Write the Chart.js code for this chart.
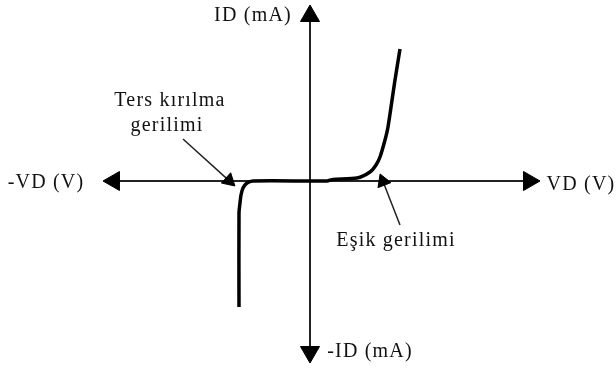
<!DOCTYPE html>
<html>
<head>
<meta charset="utf-8">
<script src="https://cdn.jsdelivr.net/npm/chart.js@4.4.1/dist/chart.umd.min.js"></script>
<style>
  html, body { margin: 0; padding: 0; background: #fff; }
  #wrap { width: 616px; height: 371px; }
</style>
</head>
<body>
<div id="wrap"><canvas id="diode" width="616" height="371"></canvas></div>
<script>
// diode characteristic (arbitrary units, reverse breakdown on the left, knee on the right)
const vd = [-3.55, -3.55, -3.5, -3.45, -3.35, -3.15, -2.85, 0, 0.85, 1.15, 2.35, 3.0, 3.3, 3.5, 3.75, 3.9, 4.25, 4.5];
const id = [-6.3, -1.6, -1.1, -0.7, -0.35, -0.1, 0, 0, 0, 0.08, 0.15, 0.45, 0.8, 1.2, 2.05, 2.7, 5.05, 6.6];

// axis extents, ending at the arrowhead centres
const vAxis = [-9.8, 10.95];
const iAxis = [-8.55, 8.25];

// pointer arrows: start near the caption, end at the arrowhead
const breakdownX = [-6.35, -4.05];
const breakdownY = [2.1, 0.02];
const thresholdX = [4.5, 3.65];
const thresholdY = [-2.2, -0.02];

const captions = ["ID (mA)", "-ID (mA)", "-VD (V)", "VD (V)", "Ters kırılma", "gerilimi", "Eşik gerilimi"];
const captionX = [-2.85, 3.0, -13.2, 13.55, -7.0, -7.15, 4.3];
const captionY = [8.25, -8.55, -0.1, -0.2, 4.0, 2.75, -3.0];

const toPoints = (xs, ys) => xs.map((x, i) => ({ x: x, y: ys[i] }));

// rotate each triangle so it points away from its neighbour on the line
function headRotation(ctx) {
  const pts = ctx.dataset.data;
  const i = ctx.dataIndex;
  const j = i === 0 ? 1 : i - 1;
  const sx = ctx.chart.scales.x, sy = ctx.chart.scales.y;
  const dx = sx.getPixelForValue(pts[i].x) - sx.getPixelForValue(pts[j].x);
  const dy = sy.getPixelForValue(pts[i].y) - sy.getPixelForValue(pts[j].y);
  return Math.atan2(dx, -dy) * 180 / Math.PI;
}

const captionPlugin = {
  id: "captions",
  afterDatasetsDraw(chart) {
    const c = chart.ctx;
    const sx = chart.scales.x, sy = chart.scales.y;
    c.save();
    c.fillStyle = "#111";
    c.font = "20px 'Liberation Serif', 'Times New Roman', serif";
    c.letterSpacing = "1.2px";
    c.textAlign = "center";
    c.textBaseline = "middle";
    captions.forEach((t, i) => {
      c.fillText(t, sx.getPixelForValue(captionX[i]), sy.getPixelForValue(captionY[i]));
    });
    c.restore();
  }
};

const axisStyle = {
  showLine: true,
  borderColor: "#222",
  borderWidth: 2,
  pointStyle: "triangle",
  pointRadius: 11,
  pointBackgroundColor: "#000",
  pointBorderColor: "#000",
  pointBorderWidth: 1,
  pointRotation: headRotation,
  order: 3
};

const pointerStyle = {
  showLine: true,
  borderColor: "#222",
  borderWidth: 1.5,
  pointStyle: "triangle",
  pointRadius: [0, 8],
  pointBackgroundColor: "#000",
  pointBorderColor: "#000",
  pointBorderWidth: 1,
  pointRotation: headRotation,
  order: 2
};

new Chart(document.getElementById("diode"), {
  type: "scatter",
  data: {
    datasets: [
      Object.assign({ label: "VD", data: toPoints(vAxis, [0, 0]) }, axisStyle),
      Object.assign({ label: "ID", data: toPoints([0, 0], iAxis) }, axisStyle),
      Object.assign({ label: "Ters kırılma", data: toPoints(breakdownX, breakdownY) }, pointerStyle),
      Object.assign({ label: "Eşik", data: toPoints(thresholdX, thresholdY) }, pointerStyle),
      {
        label: "ID-VD",
        data: toPoints(vd, id),
        showLine: true,
        borderColor: "#000",
        borderWidth: 3.5,
        tension: 0.25,
        pointRadius: 0,
        order: 1
      }
    ]
  },
  options: {
    responsive: false,
    animation: false,
    events: [],
    layout: { padding: 0, autoPadding: false },
    clip: false,
    scales: {
      x: { type: "linear", min: -15.5, max: 15.3, display: false },
      y: { type: "linear", min: -9.5, max: 9.05, display: false }
    },
    plugins: {
      legend: { display: false },
      tooltip: { enabled: false }
    }
  },
  plugins: [captionPlugin]
});
</script>
</body>
</html>
